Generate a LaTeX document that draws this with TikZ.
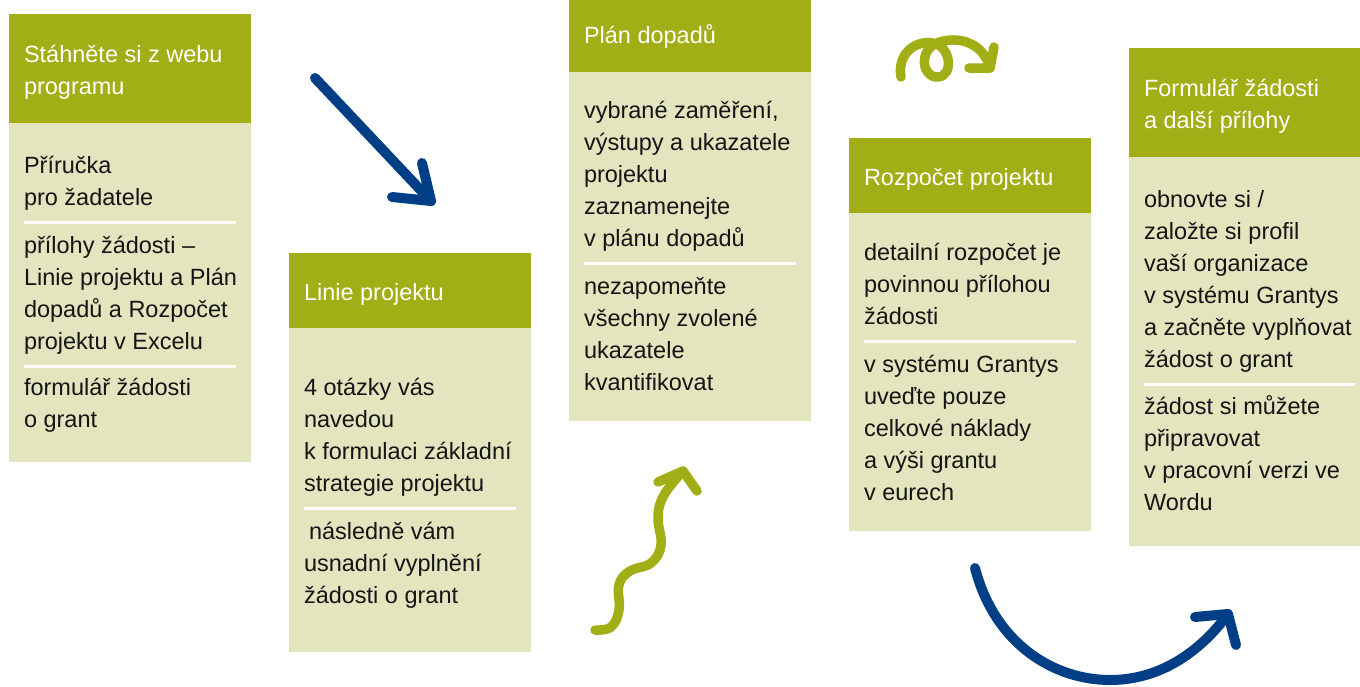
\documentclass[tikz,border=0pt]{standalone}
\usepackage{fontspec}
\setmainfont{Liberation Sans}
\definecolor{hdrgreen}{HTML}{A2AE16}
\definecolor{bodygreen}{HTML}{E2E5BD}
\definecolor{darkblue}{HTML}{003F86}
\definecolor{inkblack}{HTML}{151515}
\tikzset{
  bodytxt/.style={anchor=base west, inner sep=0pt, outer sep=0pt, text=inkblack, font=\fontsize{23.5}{32}\selectfont},
  hdrtxt/.style={bodytxt, text=white},
  sepline/.style={draw=white, line width=3pt},
  bluearrow/.style={draw=darkblue, line width=10pt, line cap=round, line join=round},
  olivearrow/.style={draw=hdrgreen, line width=9.5pt, line cap=round, line join=round},
}
\newcommand\txtlines[5]{% #1 name, #2 x, #3 first baseline, #4 style, #5 list
  \foreach \linetext [count=\i] in {#5} {\node[#4] (#1-\i) at (#2, {#3+32*(\i-1)}) {\linetext};}}
\newcommand\stepcard[5]{% #1 left x, #2 header top, #3 header bottom, #4 body bottom, #5 right x
  \fill[hdrgreen] (#1,#2) rectangle (#5,#3);
  \fill[bodygreen] (#1,#3) rectangle (#5,#4);}
\begin{document}
\begin{tikzpicture}[x=1pt,y=-1pt]
\useasboundingbox (0,0) rectangle (1360,686);
\fill[white] (0,0) rectangle (1360,686);

% cards
\stepcard{9}{14}{123}{462}{251}
\stepcard{289}{253}{328}{652}{531}
\stepcard{569}{0}{72}{421}{811}
\stepcard{849}{138}{213}{531}{1091}
\stepcard{1129}{48}{157}{546}{1360}

% card 1
\txtlines{h1}{24}{62}{hdrtxt}{Stáhněte si z webu, programu}
\txtlines{a1}{24}{173}{bodytxt}{Příručka, pro žadatele}
\draw[sepline] (24,222) -- (236,222);
\txtlines{b1}{24}{253}{bodytxt}{přílohy žádosti –, Linie projektu a Plán, dopadů a Rozpočet, projektu v Excelu}
\draw[sepline] (24,366) -- (236,366);
\txtlines{c1}{24}{395}{bodytxt}{formulář žádosti, o grant}

% card 2
\txtlines{h2}{304}{300}{hdrtxt}{Linie projektu}
\txtlines{a2}{304}{395}{bodytxt}{4 otázky vás, navedou, k formulaci základní, strategie projektu}
\draw[sepline] (304,508) -- (516,508);
\txtlines{b2}{304}{539}{bodytxt}{\hspace*{5pt}následně vám, usnadní vyplnění, žádosti o grant}

% card 3
\txtlines{h3}{584}{43}{hdrtxt}{Plán dopadů}
\txtlines{a3}{584}{118}{bodytxt}{{vybrané zaměření,}, výstupy a ukazatele, projektu, zaznamenejte, v plánu dopadů}
\draw[sepline] (584,263) -- (796,263);
\txtlines{b3}{584}{294}{bodytxt}{nezapomeňte, všechny zvolené, ukazatele, kvantifikovat}

% card 4
\txtlines{h4}{864}{185}{hdrtxt}{Rozpočet projektu}
\txtlines{a4}{864}{260}{bodytxt}{detailní rozpočet je, povinnou přílohou, žádosti}
\draw[sepline] (864,341) -- (1076,341);
\txtlines{b4}{864}{372}{bodytxt}{v systému Grantys, uveďte pouze, celkové náklady, a výši grantu, v eurech}

% card 5
\txtlines{h5}{1144}{96}{hdrtxt}{Formulář žádosti, a další přílohy}
\txtlines{a5}{1144}{207}{bodytxt}{obnovte si /, založte si profil, vaší organizace, v systému Grantys, a začněte vyplňovat, žádost o grant}
\draw[sepline] (1144,384) -- (1355,384);
\txtlines{b5}{1144}{414}{bodytxt}{žádost si můžete, připravovat, v pracovní verzi ve, Wordu}

% arrow 1: straight blue
\coordinate (s1) at (315,78);
\coordinate (t1) at (431,201);
\draw[bluearrow] (s1) -- (t1);
\draw[bluearrow] (392,197) -- (t1) -- (422,163);

% arrow 2: olive squiggle
\coordinate (t2) at (683,471);
\draw[olivearrow] plot[smooth, tension=0.7] coordinates {(595,630) (611,627) (619,610) (619,585) (630,571) (651,563) (661,545) (658,517) (664,495) (t2)};
\draw[olivearrow] (658,482) -- (t2) -- (697,491);

% arrow 3: olive loop
\coordinate (s3) at (901,77);
\coordinate (t3) at (990,68);
\draw[olivearrow] (s3) .. controls (897,55) and (914,40) .. (933,43)
  .. controls (951,46) and (954,76) .. (938,77)
  .. controls (922,78) and (919,52) .. (935,44)
  .. controls (951,36) and (982,38) .. (t3);
\draw[olivearrow] (969,68) -- (t3) -- (994,47);

% arrow 4: blue curve
\coordinate (s4) at (975,568);
\coordinate (t4) at (1228,614);
\draw[bluearrow] (s4) .. controls (995,645) and (1055,680) .. (1110,680) .. controls (1160,680) and (1200,652) .. (t4);
\draw[bluearrow] (1195,617) -- (t4) -- (1236,645);
\end{tikzpicture}
\end{document}
